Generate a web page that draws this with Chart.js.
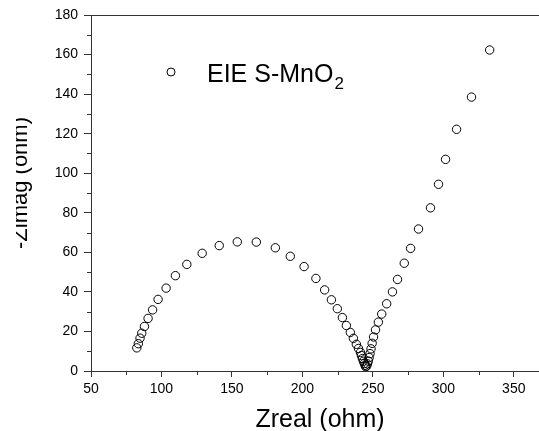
<!DOCTYPE html>
<html>
<head>
<meta charset="utf-8">
<script src="https://cdn.jsdelivr.net/npm/chart.js@4/dist/chart.umd.min.js"></script>
<style>
  html, body { margin: 0; padding: 0; background: #fff; overflow: hidden; }
  #wrap { position: absolute; left: 0; top: 0; width: 600px; height: 431px; }
</style>
</head>
<body>
<div id="wrap"><canvas id="chart" width="600" height="431"></canvas></div>
<script>
// Nyquist data (ohm)
const zReal = [
  82.5, 83.6, 84.8, 86.0, 87.9, 90.5, 93.7, 97.6, 103.3, 109.9, 118.0, 128.9,
  141.0, 153.8, 167.3, 180.8, 191.4, 201.2, 209.6, 215.8, 220.6, 224.8, 228.4,
  231.2, 234.0, 236.2, 238.3, 239.8, 241.2, 241.9, 242.6, 243.3, 244.0, 244.5,
  244.9,
  245.6, 246.2, 246.8, 247.4, 248.0, 248.7, 249.5, 250.5, 251.9, 253.9, 256.3,
  259.8, 263.9, 267.5, 272.3, 276.8, 282.4, 290.9, 296.6, 301.6, 309.4, 320.0,
  332.9,
];
const zImag = [
  11.7, 13.8, 16.6, 19.1, 22.5, 26.6, 30.9, 36.2, 41.9, 48.2, 53.9, 59.5,
  63.4, 65.3, 65.2, 62.3, 58.0, 52.8, 46.8, 41.0, 36.0, 31.5, 27.0,
  23.0, 19.5, 16.5, 13.5, 11.4, 9.4, 7.8, 6.3, 4.9, 3.8, 2.9,
  2.2,
  2.5, 3.6, 5.0, 6.8, 8.8, 11.2, 14.0, 17.2, 20.8, 24.7, 28.8,
  34.0, 40.0, 46.3, 54.5, 62.0, 71.8, 82.5, 94.4, 107.0, 122.2, 138.5,
  162.3,
];

const seriesName = "EIE S-MnO";
const seriesSub = "2";
const xTitle = "Zreal (ohm)";
const yTitle = "-Zimag (ohm)";

const xRange = [50, 375];
const yRange = [0, 180];

const axisColor = "#333";
const fontFamily = "Arial, 'Liberation Sans', sans-serif";

const points = zReal.map((x, i) => ({ x, y: zImag[i] }));

// minor ticks, frame, titles and legend
const decorations = {
  id: "decorations",
  afterDraw(chart) {
    const { ctx, chartArea: a, scales } = chart;
    ctx.save();
    ctx.strokeStyle = axisColor;
    ctx.lineWidth = 1;

    // top / right frame
    ctx.beginPath();
    ctx.moveTo(a.left, a.top + 0.5);
    ctx.lineTo(a.right, a.top + 0.5);
    ctx.moveTo(a.right + 0.5, a.top);
    ctx.lineTo(a.right + 0.5, a.bottom);
    ctx.stroke();

    // minor ticks
    ctx.beginPath();
    for (let v = 60; v < xRange[1]; v += 50) {
      const px = Math.round(scales.x.getPixelForValue(v + 15)) + 0.5;
      ctx.moveTo(px, a.bottom);
      ctx.lineTo(px, a.bottom + 4);
    }
    for (let v = 10; v < yRange[1]; v += 20) {
      const py = Math.round(scales.y.getPixelForValue(v)) + 0.5;
      ctx.moveTo(a.left, py);
      ctx.lineTo(a.left - 4, py);
    }
    ctx.stroke();

    // axis titles
    ctx.fillStyle = "#000";
    ctx.font = "25px " + fontFamily;
    ctx.textAlign = "center";
    ctx.textBaseline = "alphabetic";
    ctx.fillText(xTitle, 320, 427);

    // y title: the original is cut off along its left side
    ctx.save();
    ctx.beginPath();
    ctx.rect(16, 0, 60, 431);
    ctx.clip();
    ctx.translate(27, 183);
    ctx.rotate(-Math.PI / 2);
    ctx.font = "22px " + fontFamily;
    ctx.fillText(yTitle, 0, 0);
    ctx.restore();

    // legend
    ctx.beginPath();
    ctx.arc(171, 72, 4, 0, Math.PI * 2);
    ctx.strokeStyle = "#000";
    ctx.stroke();
    ctx.textAlign = "left";
    ctx.font = "25px " + fontFamily;
    ctx.fillText(seriesName, 207, 82);
    const w = ctx.measureText(seriesName).width;
    ctx.font = "17px " + fontFamily;
    ctx.fillText(seriesSub, 207 + w + 1, 89);
    ctx.restore();
  },
};

new Chart(document.getElementById("chart"), {
  type: "scatter",
  data: {
    datasets: [
      {
        label: seriesName + seriesSub,
        data: points,
        pointStyle: "circle",
        pointRadius: 4.2,
        pointBorderWidth: 1,
        pointBorderColor: "#000",
        pointBackgroundColor: "rgba(0,0,0,0)",
        showLine: false,
      },
    ],
  },
  options: {
    responsive: false,
    animation: false,
    devicePixelRatio: 1,
    layout: { padding: { top: 15, right: 51, left: 0, bottom: 0 } },
    plugins: {
      legend: { display: false },
      tooltip: { enabled: false },
    },
    scales: {
      x: {
        type: "linear",
        min: xRange[0],
        max: xRange[1],
        afterFit: (s) => { s.height = 60; },
        border: { display: true, color: axisColor, width: 1 },
        grid: {
          drawOnChartArea: false,
          tickLength: 6,
          tickColor: (c) => (c.tick && c.tick.value % 50 === 0 ? axisColor : "rgba(0,0,0,0)"),
        },
        ticks: {
          stepSize: 25,
          padding: 4,
          color: "#000",
          font: { family: fontFamily, size: 14 },
          maxRotation: 0,
          autoSkip: false,
          callback: (v) => (v % 50 === 0 ? String(v) : ""),
        },
      },
      y: {
        type: "linear",
        min: yRange[0],
        max: yRange[1],
        afterFit: (s) => { s.width = 91; },
        border: { display: true, color: axisColor, width: 1 },
        grid: {
          drawOnChartArea: false,
          tickLength: 7,
          tickColor: (c) => (c.tick && c.tick.value % 20 === 0 ? axisColor : "rgba(0,0,0,0)"),
        },
        ticks: {
          stepSize: 10,
          padding: 6,
          color: "#000",
          font: { family: fontFamily, size: 14 },
          autoSkip: false,
          callback: (v) => (v % 20 === 0 ? String(v) : ""),
        },
      },
    },
  },
  plugins: [decorations],
});
</script>
</body>
</html>
